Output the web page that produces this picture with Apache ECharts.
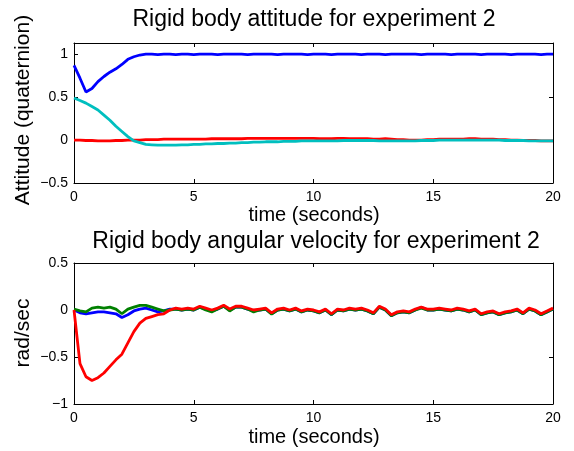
<!DOCTYPE html>
<html>
<head>
<meta charset="utf-8">
<script src="https://cdn.jsdelivr.net/npm/echarts@6/dist/echarts.min.js"></script>
<style>html,body{margin:0;padding:0;background:#fff}#c{width:574px;height:451px}</style>
</head>
<body>
<div id="c"></div>
<script>
const time = [0,0.25,0.5,0.75,1,1.25,1.5,1.75,
2,2.25,2.5,2.75,3,3.25,3.5,3.75,
4,4.25,4.5,4.75,5,5.25,5.5,5.75,
6,6.25,6.5,6.75,7,7.25,7.5,7.75,
8,8.25,8.5,8.75,9,9.25,9.5,9.75,
10,10.25,10.5,10.75,11,11.25,11.5,11.75,
12,12.25,12.5,12.75,13,13.25,13.5,13.75,
14,14.25,14.5,14.75,15,15.25,15.5,15.75,
16,16.25,16.5,16.75,17,17.25,17.5,17.75,
18,18.25,18.5,18.75,19,19.25,19.5,19.75,
20];

const attBlue = [0.87,0.72,0.56,0.60,0.68,0.74,0.79,0.83,
0.88,0.94,0.97,0.99,1.0,1.0,0.995,1.0,
1.0,0.995,1.0,1.0,0.995,1.0,1.0,1.0,
0.995,1.0,1.0,1.0,1.0,0.995,1.0,1.0,
1.0,1.0,0.995,1.0,1.0,1.0,1.0,0.995,
1.0,1.0,1.0,0.995,1.0,1.0,1.0,1.0,
0.995,1.0,1.0,1.0,0.995,1.0,1.0,1.0,
1.0,1.0,0.995,1.0,1.0,1.0,1.0,0.995,
1.0,1.0,1.0,1.0,0.995,1.0,1.0,1.0,
1.0,0.995,1.0,1.0,1.0,1.0,0.995,1.0,
1.0];

const attRed = [0.0,0.0,-0.005,-0.005,-0.01,-0.01,-0.01,-0.005,
-0.005,0.0,0.0,0.0,0.005,0.005,0.005,0.01,
0.01,0.01,0.01,0.01,0.01,0.01,0.01,0.015,
0.015,0.015,0.015,0.015,0.015,0.02,0.02,0.02,
0.02,0.02,0.02,0.02,0.02,0.02,0.02,0.02,
0.02,0.015,0.015,0.015,0.02,0.02,0.015,0.015,
0.015,0.015,0.01,0.01,0.015,0.01,0.005,0.005,
0.0,0.0,0.0,0.005,0.005,0.01,0.01,0.01,
0.01,0.01,0.015,0.015,0.01,0.01,0.01,0.005,
0.005,0.0,0.0,-0.005,-0.005,-0.005,-0.01,-0.01,
-0.01];

const attCyan = [0.49,0.46,0.43,0.39,0.35,0.29,0.23,0.16,
0.10,0.04,-0.01,-0.03,-0.05,-0.055,-0.06,-0.06,
-0.06,-0.06,-0.055,-0.055,-0.05,-0.05,-0.045,-0.045,
-0.04,-0.04,-0.035,-0.035,-0.03,-0.03,-0.025,-0.025,
-0.02,-0.02,-0.02,-0.015,-0.015,-0.015,-0.01,-0.01,
-0.01,-0.01,-0.01,-0.01,-0.01,-0.005,-0.005,-0.005,
-0.005,-0.005,-0.005,-0.01,-0.01,-0.01,-0.01,-0.01,
-0.01,-0.01,-0.005,-0.005,-0.005,0.0,0.0,0.0,
0.0,0.0,0.0,0.0,0.0,0.0,0.0,0.0,
-0.005,-0.005,-0.005,-0.005,-0.01,-0.01,-0.01,-0.01,
-0.01];

const velRed = [0.0,-0.57,-0.71,-0.75,-0.72,-0.67,-0.60,-0.53,
-0.47,-0.35,-0.23,-0.14,-0.09,-0.07,-0.05,-0.04,
0.0,0.02,0.01,0.02,0.01,0.04,0.02,0.0,
0.02,0.05,0.01,0.04,0.04,0.02,0.0,0.01,
0.02,-0.03,0.01,0.02,0.0,0.02,-0.01,0.01,
0.0,-0.02,0.01,-0.04,0.01,0.0,0.02,0.01,
0.02,0.0,-0.03,0.04,0.01,-0.05,-0.02,-0.01,
-0.02,0.01,0.03,0.01,0.01,0.02,0.01,0.0,
0.02,0.01,-0.01,0.01,-0.04,-0.02,-0.01,-0.04,
-0.02,-0.01,0.01,-0.03,0.02,0.0,-0.04,-0.01,
0.02];

const velBlue = [0.0,-0.03,-0.04,-0.03,-0.02,-0.02,-0.03,-0.04,
-0.08,-0.05,-0.01,0.01,0.02,0.0,-0.02,-0.01,
0.01,0.01,0.0,0.01,0.0,0.03,0.01,-0.01,
0.01,0.04,0.0,0.03,0.03,0.01,-0.01,0.0,
0.01,-0.04,0.0,0.01,-0.01,0.01,-0.02,0.0,
-0.01,-0.03,0.0,-0.05,0.0,-0.01,0.01,0.0,
0.01,-0.01,-0.04,0.03,0.0,-0.06,-0.03,-0.02,
-0.03,0.0,0.03,0.0,0.0,0.01,0.0,-0.01,
0.01,0.0,-0.02,0.0,-0.05,-0.03,-0.02,-0.05,
-0.03,-0.02,0.0,-0.04,0.01,-0.01,-0.05,-0.02,
0.01];

const velGreen = [0.01,-0.01,-0.02,0.02,0.03,0.02,0.03,0.01,
-0.04,0.01,0.03,0.05,0.05,0.03,0.01,-0.01,
0.0,0.01,0.0,0.01,0.0,0.03,0.0,-0.02,
0.01,0.04,-0.01,0.03,0.03,0.01,-0.02,0.0,
0.01,-0.045,0.0,0.01,-0.01,0.01,-0.02,0.0,
-0.01,-0.03,0.0,-0.05,0.0,-0.01,0.01,0.0,
0.01,-0.01,-0.04,0.03,0.0,-0.06,-0.03,-0.02,
-0.03,0.0,0.02,0.0,0.0,0.01,0.0,-0.01,
0.01,0.0,-0.02,0.0,-0.05,-0.03,-0.02,-0.05,
-0.03,-0.02,0.0,-0.04,0.01,-0.01,-0.05,-0.02,
0.01];

const titles = ['Rigid body attitude for experiment 2', 'Rigid body angular velocity for experiment 2'];
const yNames = ['Attitude (quaternion)', 'rad/sec'];
const xName = 'time (seconds)';

const FONT = '"Liberation Sans", Arial, Helvetica, sans-serif';
const pairs = (ys) => time.map((t, i) => [t, ys[i]]);
const fmt = (v) => {
  if (Math.abs(v - Math.round(v / 0.5) * 0.5) > 1e-6) return '';
  const r = Math.round(v * 10) / 10;
  return r < 0 ? '\u2212' + String(Math.abs(r)) : String(r);
};

function xAx(gi, pos, labels) {
  return {
    type: 'value', gridIndex: gi, position: pos, min: 0, max: 20, interval: 5,
    axisLine: { show: true, onZero: false, lineStyle: { color: '#000', width: 1 } },
    axisTick: { show: true, inside: true, length: 4, lineStyle: { color: '#000' } },
    axisLabel: { show: labels, margin: 7, color: '#000', fontSize: 14, fontFamily: FONT, formatter: fmt },
    splitLine: { show: false }
  };
}
function yAx(gi, pos, labels, min, max) {
  return {
    type: 'value', gridIndex: gi, position: pos, min: min, max: max, interval: 0.5,
    axisLine: { show: true, onZero: false, lineStyle: { color: '#000', width: 1 } },
    axisTick: { show: true, inside: true, length: 4, lineStyle: { color: '#000' } },
    axisLabel: { show: labels, margin: 6, color: '#000', fontSize: 14, fontFamily: FONT, formatter: fmt, showMaxLabel: true },
    splitLine: { show: false }
  };
}
function line(xi, yi, ys, color) {
  return {
    type: 'line', xAxisIndex: xi, yAxisIndex: yi, data: pairs(ys), showSymbol: false, symbol: 'none',
    lineStyle: { color: color, width: 2.8 }, itemStyle: { color: color }, silent: true
  };
}

const chart = echarts.init(document.getElementById('c'), null, { renderer: 'canvas' });
chart.setOption({
  animation: false,
  backgroundColor: '#fff',
  grid: [
    { left: 74, top: 43, width: 479, height: 140 },
    { left: 74, top: 263, width: 479, height: 141 }
  ],
  xAxis: [xAx(0, 'bottom', true), xAx(0, 'top', false), xAx(1, 'bottom', true), xAx(1, 'top', false)],
  yAxis: [yAx(0, 'left', true, -0.5, 1.13), yAx(0, 'right', false, -0.5, 1.13),
          yAx(1, 'left', true, -1, 0.5), yAx(1, 'right', false, -1, 0.5)],
  series: [
    line(0, 0, attBlue, '#0000ff'),
    line(0, 0, attRed, '#ff0000'),
    line(0, 0, attCyan, '#00bfbf'),
    line(2, 2, velBlue, '#0000ff'),
    line(2, 2, velGreen, '#008000'),
    line(2, 2, velRed, '#ff0000')
  ],
  graphic: [
    { type: 'text', x: 314, y: 20, style: { text: titles[0], font: '23px ' + FONT, fill: '#000', textAlign: 'center', textVerticalAlign: 'middle' } },
    { type: 'text', x: 316, y: 242, style: { text: titles[1], font: '23px ' + FONT, fill: '#000', textAlign: 'center', textVerticalAlign: 'middle' } },
    { type: 'text', x: 314, y: 215, style: { text: xName, font: '20px ' + FONT, fill: '#000', textAlign: 'center', textVerticalAlign: 'middle' } },
    { type: 'text', x: 314, y: 437, style: { text: xName, font: '20px ' + FONT, fill: '#000', textAlign: 'center', textVerticalAlign: 'middle' } },
    { type: 'text', x: 23, y: 110, rotation: Math.PI / 2, style: { text: yNames[0], font: '21px ' + FONT, fill: '#000', textAlign: 'center', textVerticalAlign: 'middle' } },
    { type: 'text', x: 23, y: 333, rotation: Math.PI / 2, style: { text: yNames[1], font: '21px ' + FONT, fill: '#000', textAlign: 'center', textVerticalAlign: 'middle' } }
  ]
});
</script>
</body>
</html>
